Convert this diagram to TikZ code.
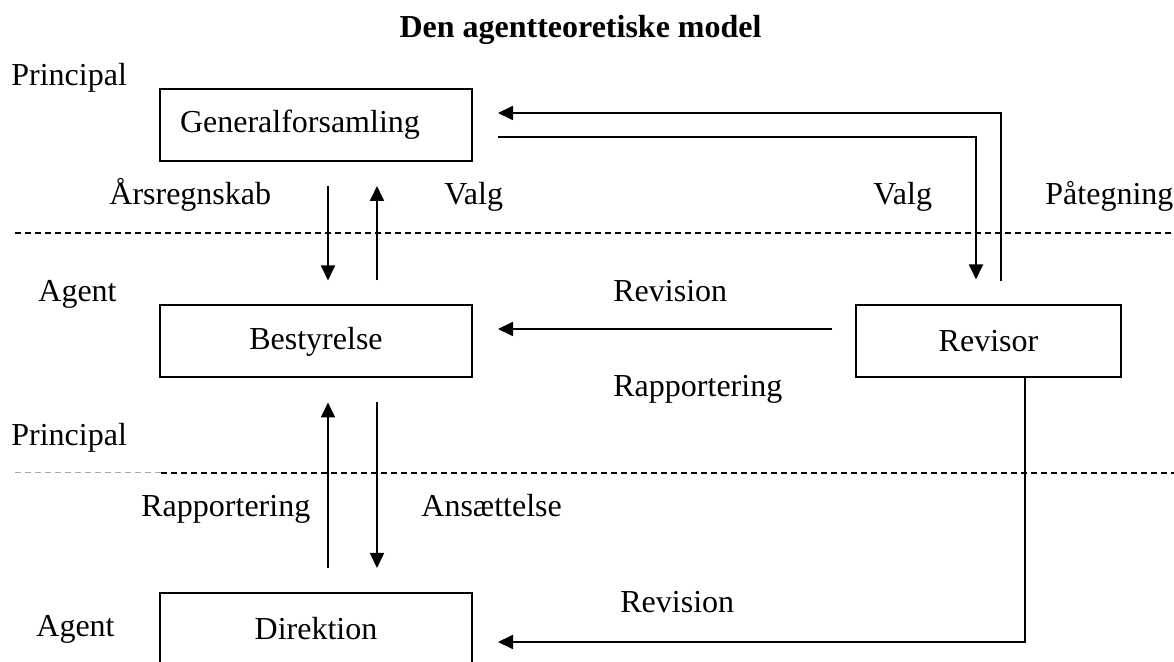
\documentclass[tikz,border=0pt]{standalone}
\usepackage{fontspec}
\setmainfont{Liberation Serif}
\usetikzlibrary{arrows.meta,calc}
\tikzset{
  boks/.style={draw,line width=1pt,minimum width=156pt,minimum height=36pt,inner sep=0pt},
  pil/.style={->,line width=0.9pt,shorten <=12pt,shorten >=12pt},
  skille/.style={line width=0.7pt,dash pattern=on 3pt off 2pt},
  tekst/.style={anchor=base west,inner sep=0pt}
}

\begin{document}
\begin{tikzpicture}[x=0.5pt,y=-0.5pt,>={Triangle[length=7.5pt,width=7pt]},font=\fontsize{16}{19}\selectfont]
    \useasboundingbox (0,0) rectangle (1174,662);
    \node[anchor=base,inner sep=0pt,font=\fontsize{16}{19}\selectfont\bfseries] (titel) at (580.5,38) {Den agentteoretiske model};

    % skillelinjer mellem principal og agent
    \draw[skille] (15,233) -- (1174,233);
    \draw[skille,gray!70,line width=0.5pt] (15,473) -- (161,473);
    \draw[skille] (161,473) -- (1174,473);

    % kasser
    \node[boks,text width=136pt,align=left,inner xsep=10pt] (gen) at (316,125) {Generalforsamling};
    \node[boks] (best) at (316,341.5) {Bestyrelse};
    \node[boks,minimum width=132.5pt] (rev) at (988.5,341.5) {Revisor};
    \node[boks] (dir) at (316,629) {Direktion};

    % tekster
    \foreach \navn/\x/\y/\txt in {principalA/11/86/Principal, aarsregnskab/109/205/Årsregnskab,
        valgA/444/205/Valg, valgB/873/205/Valg, paategning/1045/205/Påtegning,
        agentA/38/302/Agent, revisionA/613/302/Revision, rapporteringA/613/397/Rapportering,
        principalB/11/446/Principal, rapporteringB/141/517/Rapportering,
        ansaettelse/421/517/Ansættelse, revisionB/620/613/Revision, agentB/36/637/Agent}
        \node[tekst] (\navn) at (\x,\y) {\txt};

    % pile
    \draw[pil] ([xshift=6pt]gen.south) -- ([xshift=6pt]best.north);
    \draw[pil] ([xshift=30.5pt]best.north) -- ([xshift=30.5pt]gen.south);
    \draw[pil] ([xshift=6pt]dir.north) -- ([xshift=6pt]best.south);
    \draw[pil] ([xshift=30.5pt]best.south) -- ([xshift=30.5pt]dir.north);
    \draw[pil,shorten <=12.5pt,shorten >=12.5pt] ([yshift=-6pt]gen.east) -| ([xshift=-6.25pt]rev.north);
    \draw[pil,shorten <=11.5pt,shorten >=12.5pt] ([xshift=6.25pt]rev.north) |- ([yshift=6pt]gen.east);
    \draw[pil,shorten <=11.5pt,shorten >=12.5pt] ([yshift=6.25pt]rev.west) -- ([yshift=6.25pt]best.east);
    \draw[pil,shorten <=0pt,shorten >=12.5pt] ([xshift=18.25pt]rev.south) |- ([yshift=-6.5pt]dir.east);
\end{tikzpicture}
\end{document}
